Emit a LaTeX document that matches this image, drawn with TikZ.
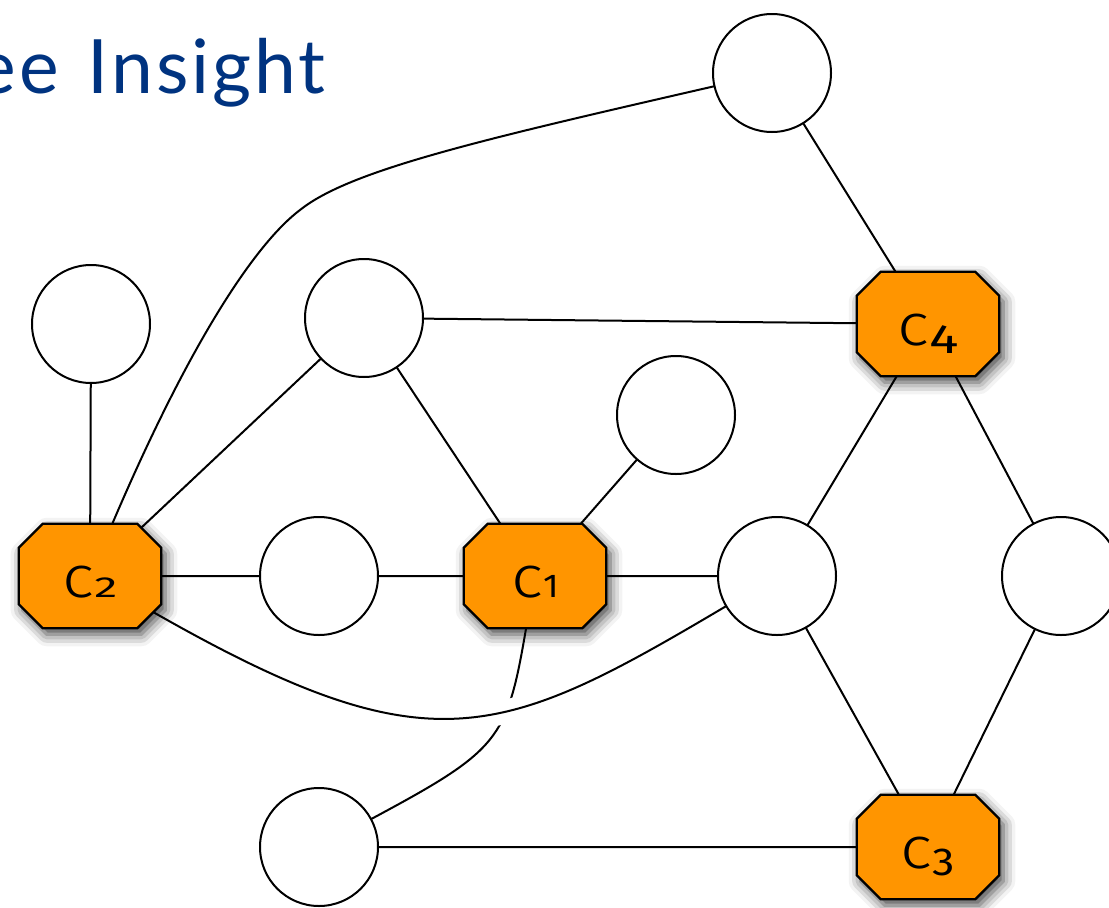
\documentclass[tikz,border=0pt]{standalone}
\usepackage{fontspec}
\usepackage{graphicx}
\setmainfont{Lato}
\newfontfamily\titlefont[WordSpace=1.3,LetterSpace=4]{Lato}
\newfontfamily\hublabel{Fira Sans Light}
\newfontfamily\hubdigit{Fira Sans}
\usetikzlibrary{shapes.misc,shadows.blur,backgrounds}
\definecolor{titleblue}{RGB}{0,51,128}
\definecolor{hubfill}{RGB}{255,149,0}
% hub names: a wide c followed by a small figure (size, stretch, figure, drop)
\newcommand\hubc{\scalebox{1.15}[1]{c}}
\newcommand\hubfig[4]{\raisebox{#4}{\scalebox{#2}[1]{\hubdigit\fontsize{#1}{#1}\selectfont #3}}}
\begin{document}
\begin{tikzpicture}[x=1pt,y=-1pt,
  plain/.style={circle, draw, line width=2pt, fill=white, minimum size=118pt,
    inner sep=0pt, outer sep=0pt},
  hubnode/.style={chamfered rectangle, chamfered rectangle xsep=12pt,
    chamfered rectangle ysep=12pt, draw, line width=2.4pt, fill=hubfill,
    minimum width=142.5pt, minimum height=104.5pt, inner sep=0pt, outer sep=0pt,
    font=\hublabel\fontsize{59}{59}\selectfont, text height=43pt, text depth=0pt,
    blur shadow={shadow xshift=4pt, shadow yshift=-6pt, shadow blur radius=12pt,
      shadow opacity=75}},
  link/.style={line width=2pt}]
\useasboundingbox (0,0) rectangle (1109,908);

% heading
\node[anchor=base east, text=titleblue, font=\titlefont\fontsize{75}{75}\selectfont,
  inner sep=0pt] (title) at (326,93) {ee Insight};

% plain vertices
\node[plain] (t) at (772,73) {};
\node[plain] (a) at (91,324) {};
\node[plain] (b) at (364,318) {};
\node[plain] (d) at (676,415) {};
\node[plain] (e) at (319,576) {};
\node[plain] (f) at (777,576) {};
\node[plain] (g) at (1061,576) {};
\node[plain] (h) at (319,847) {};

% hub vertices
\node[hubnode] (c4) at (928,324) {\hubc\hubfig{41}{1.35}{4}{-8pt}};
\node[hubnode] (c2) at (90,576) {\hubc\hubfig{29}{1.6}{2}{0pt}};
\node[hubnode] (c1) at (535,576) {\hubc\hubfig{33}{1.1}{1}{0pt}};
\node[hubnode] (c3) at (928,847) {\hubc\hubfig{39}{1.15}{3}{-7pt}};

\coordinate (bend) at (300,210);

\begin{pgfonlayer}{background}
  \draw[link] (t) .. controls (480,140) and (350,170) .. (bend)
              .. controls (260,240) and (195,330) .. (c2);
  \draw[link] (a) -- (c2);
  \draw[link] (b) -- (c2);
  \draw[link] (b) -- (c4);
  \draw[link] (b) -- (c1);
  \draw[link] (d) -- (c1);
  \draw[link] (c2) -- (e);
  \draw[link] (e) -- (c1);
  \draw[link] (c1) -- (f);
  \draw[link] (t) -- (c4);
  \draw[link] (c4) -- (f);
  \draw[link] (c4) -- (g);
  \draw[link] (f) -- (c3);
  \draw[link] (g) -- (c3);
  \draw[link] (h) -- (c3);
  \draw[link] (c1) .. controls (507,740) and (500,750) .. (h);
  % break in the lower link where the long curve passes over it
  \begin{scope}
    \clip (470,660) rectangle (560,740);
    \draw[white, line width=24pt] (c2) .. controls (430,770) and (500,740) .. (f);
  \end{scope}
  \draw[link] (c2) .. controls (430,770) and (500,740) .. (f);
\end{pgfonlayer}
\end{tikzpicture}
\end{document}
